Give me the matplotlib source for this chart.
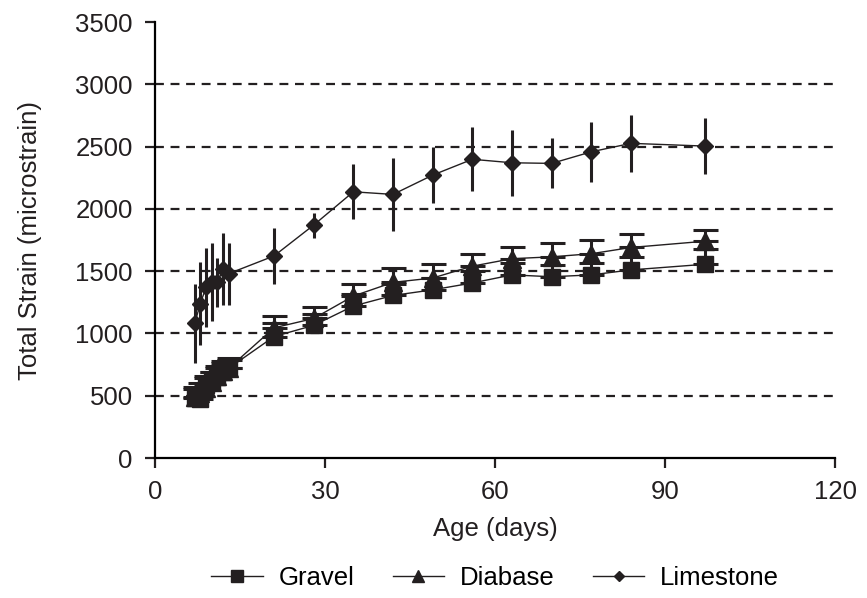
import numpy as np
import matplotlib.pyplot as plt
from matplotlib.lines import Line2D

plt.rcParams['font.family'] = ['Liberation Sans', 'DejaVu Sans']

# Age in days (same for all three aggregates)
age = [7, 8, 9, 10, 11, 12, 13, 21, 28, 35, 42, 49, 56, 63, 70, 77, 84, 97]

gravel = [480, 470, 590, 620, 650, 690, 720, 975, 1065, 1220, 1305, 1350, 1405,
          1470, 1455, 1470, 1510, 1555]
gravel_err = [70, 70, 70, 70, 70, 70, 70, 107, 95, 95, 95, 95, 95, 95, 95, 95, 107, 125]

diabase = [490, 520, 560, 610, 660, 700, 720, 1045, 1120, 1300, 1410, 1445, 1540,
           1600, 1615, 1640, 1690, 1740]
diabase_err = [80, 80, 80, 80, 80, 80, 80, 95, 90, 95, 112, 113, 96, 96, 113, 110, 108, 90]

limestone = [1080, 1240, 1370, 1415, 1410, 1515, 1480, 1622, 1870, 2137, 2116, 2271,
             2398, 2370, 2365, 2458, 2526, 2504]
limestone_err = [317, 332, 315, 312, 195, 288, 248, 225, 100, 221, 293, 226, 258, 265,
                 200, 240, 228, 222]

ink = '#231f20'
fs = 18.5

fig = plt.figure(figsize=(8.67, 5.98), dpi=100)
ax = fig.add_axes([0.1788, 0.2341, 0.7843, 0.7291])

for v in range(500, 3500, 500):
    ax.axhline(v, color=ink, lw=1.6, ls=(0, (4, 3)), zorder=1)

# gravel and diabase only carry the "plus" error bar
zeros = [0] * len(age)
ax.errorbar(age, gravel, yerr=[zeros, gravel_err], fmt='-', color=ink, lw=1.0,
            marker='s', ms=12, ecolor=ink, elinewidth=2.2, capsize=9, capthick=2.2,
            zorder=3)
ax.errorbar(age, diabase, yerr=[zeros, diabase_err], fmt='-', color=ink, lw=1.0,
            marker='^', ms=12.5, ecolor=ink, elinewidth=2.2, capsize=9, capthick=2.2,
            zorder=3)
ax.errorbar(age, limestone, yerr=limestone_err, fmt='-', color=ink, lw=1.0,
            marker='D', ms=8, ecolor=ink, elinewidth=2.2, capsize=0, zorder=3)

ax.set_xlim(0, 120)
ax.set_ylim(0, 3500)
ax.set_xticks([0, 30, 60, 90, 120])
ax.set_yticks(range(0, 3501, 500))
ax.spines['top'].set_visible(False)
ax.spines['right'].set_visible(False)
ax.spines['left'].set_linewidth(1.6)
ax.spines['bottom'].set_linewidth(1.6)
ax.tick_params(direction='out', length=7, width=1.6, labelsize=fs, colors=ink, pad=9)
ax.set_xlabel('Age (days)', fontsize=fs, color=ink, labelpad=9)
ax.set_ylabel('Total Strain (microstrain)', fontsize=fs, color=ink, labelpad=24)

handles = [
    Line2D([], [], color=ink, lw=1.0, marker='s', ms=8),
    Line2D([], [], color=ink, lw=1.0, marker='^', ms=8.5),
    Line2D([], [], color=ink, lw=1.0, marker='D', ms=5.5),
]
labels = ['Gravel', 'Diabase', 'Limestone']
fig.legend(handles, labels, loc='center', bbox_to_anchor=(0.571, 0.033), ncol=3,
           frameon=False, fontsize=fs, handlelength=2.0,
           columnspacing=1.5, handletextpad=0.6)

fig.savefig('out.png', dpi=100)
